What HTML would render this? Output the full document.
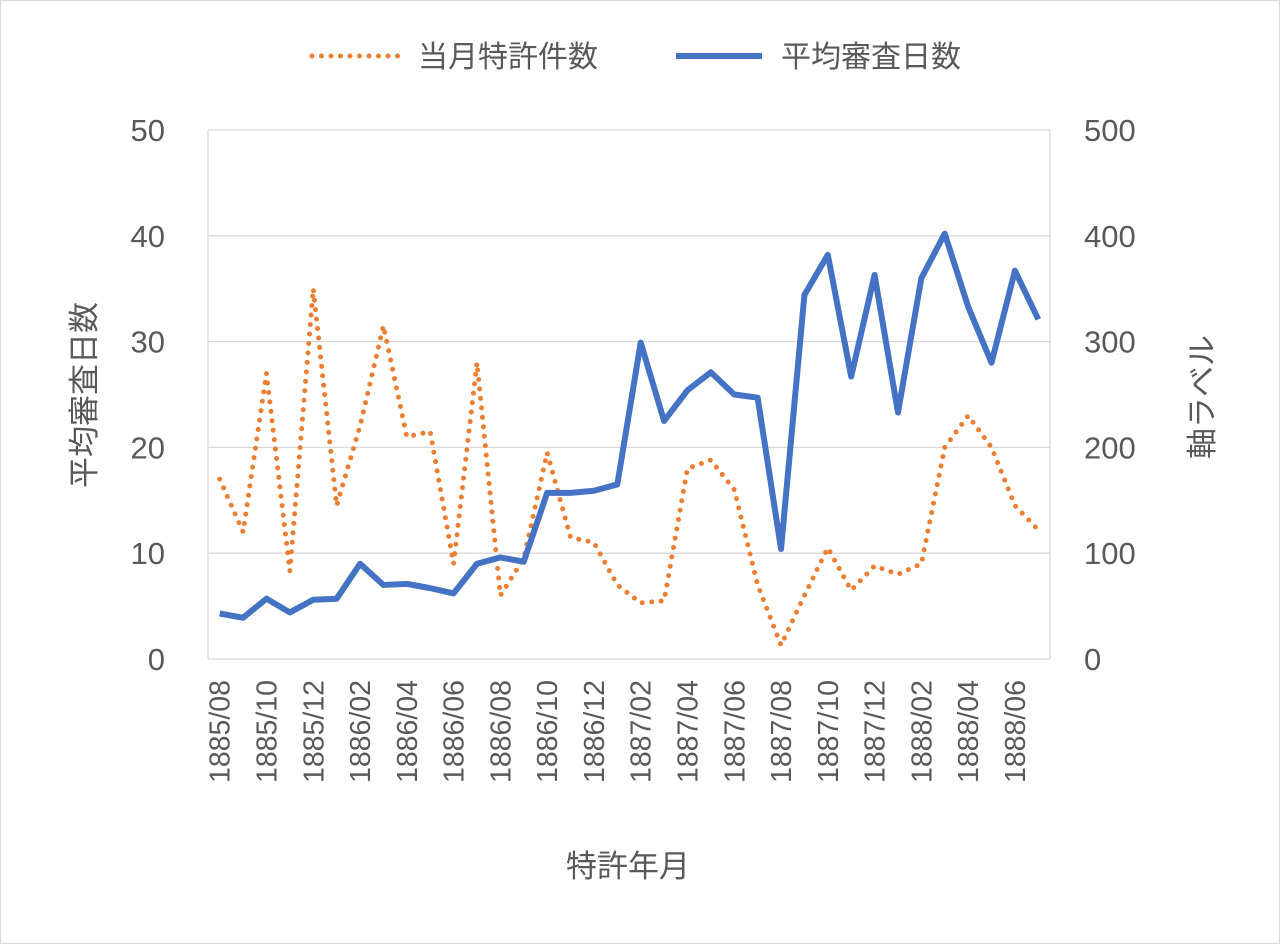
<!DOCTYPE html>
<html><head><meta charset="utf-8"><style>
body{margin:0;background:#fff}
svg{display:block;font-family:"Liberation Sans","Noto Sans CJK JP",sans-serif}
</style></head><body>
<svg id="chart" width="1280" height="944" viewBox="0 0 1280 944">
<rect x="0.5" y="0.5" width="1279" height="943" fill="#fff" stroke="#d9d9d9"/>
<g id="grid"></g><g id="axes"></g><g id="series"></g>
<g>
<line x1="312" y1="56" x2="398" y2="56" stroke="#ED7D31" stroke-width="5" stroke-linecap="round" stroke-dasharray="0 9.5"/>
<text x="418" y="67" font-size="30" fill="#595959">当月特許件数</text>
<line x1="676" y1="56" x2="762" y2="56" stroke="#4472C4" stroke-width="6"/>
<text x="781" y="67" font-size="30" fill="#595959">平均審査日数</text>
</g>
<text transform="translate(95,395) rotate(-90)" text-anchor="middle" font-size="31" fill="#595959">平均審査日数</text>
<text transform="translate(1213,397) rotate(-90)" text-anchor="middle" font-size="31" fill="#595959">軸ラベル</text>
<text x="628" y="877" text-anchor="middle" font-size="31" fill="#595959">特許年月</text>
</svg>
<script>
const categories=[];
(function(){let y=1885,m=8;for(let i=0;i<36;i++){categories.push(y+"/"+String(m).padStart(2,"0"));m++;if(m>12){m=1;y++;}}})();
const patentCounts=[17,12,27,8.3,35,14.5,22,31.5,21,21.5,9,28,6,9.5,19.5,11.5,11,7,5.3,5.5,18,18.8,16,7,1.3,6,10.5,6.5,8.8,8,9,20,23,20,14.5,12.2];
const avgDays=[43,39,57,44,56,57,90,70,71,67,62,90,96,92,157,157,159,165,299,225,254,271,250,247,104,344,382,267,363,233,360,402,333,280,367,321];
const leftTicks=[0,10,20,30,40,50];
const rightTicks=[0,100,200,300,400,500];
const NS="http://www.w3.org/2000/svg";
const X0=208,X1=1050,Y0=659,Y1=130;
const bw=(X1-X0)/categories.length;
const xs=i=>X0+bw*(i+0.5);
const yL=v=>Y0-(v/50)*(Y0-Y1);
const yR=v=>Y0-(v/500)*(Y0-Y1);
function mk(tag,attrs,parent){const e=document.createElementNS(NS,tag);for(const k in attrs)e.setAttribute(k,attrs[k]);document.getElementById(parent).appendChild(e);return e;}
leftTicks.forEach((t,i)=>{
 const l=mk("line",{x1:X0,x2:X1,y1:yL(t),y2:yL(t),stroke:"#d9d9d9","stroke-width":1.3},"grid");
 
 
 const a=mk("text",{x:165,y:yL(t)+11,"text-anchor":"end","font-size":31,fill:"#595959"},"axes");a.textContent=t;
 
 
});
rightTicks.forEach(t=>{
 const a=mk("text",{x:1084,y:yR(t)+11,"font-size":31,fill:"#595959"},"axes");a.textContent=t;
 
 
});
[X0,X1].forEach(x=>{const l=mk("line",{x1:x,x2:x,y1:Y1,y2:Y0,stroke:"#d9d9d9","stroke-width":1.3},"grid");
 
 });
categories.forEach((c,i)=>{if(i%2)return;
 const t=mk("text",{transform:`translate(${xs(i)+10},680) rotate(-90)`,"text-anchor":"end","font-size":28.5,fill:"#595959"},"axes");t.textContent=c;
 
 
});
const p1=mk("polyline",{points:patentCounts.map((v,i)=>xs(i)+","+yL(v)).join(" "),fill:"none",stroke:"#ED7D31","stroke-width":5,"stroke-linecap":"round","stroke-dasharray":"0 9.5"},"series");


const p2=mk("polyline",{points:avgDays.map((v,i)=>xs(i)+","+yR(v)).join(" "),fill:"none",stroke:"#4472C4","stroke-width":6,"stroke-linejoin":"round"},"series");


</script>
</body></html>
